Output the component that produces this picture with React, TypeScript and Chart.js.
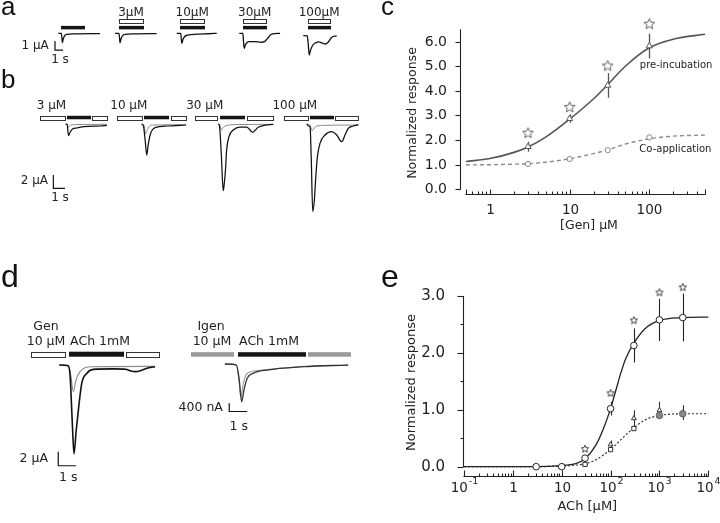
import React, { useEffect, useRef } from 'react';
import { Chart, registerables } from 'chart.js';

Chart.register(...registerables);

const SANS = '"DejaVu Sans", "Liberation Sans", sans-serif';
const LETTER = '"Liberation Sans", Arial, sans-serif';

type Pt = [number, number];

// ================= Panel a (time s, current µA) =================
const A_LABELS = ['', '3μM', '10μM', '30μM', '100μM'];
const A_START = [7.29, 14.38, 22.09, 29.91, 37.91];
const A_BAR_ON = [7.59, 14.91, 22.5, 30.41, 38.54];
const A_BAR_OFF = [10.54, 17.84, 25.54, 33.25, 41.25];
const A1: Pt[] = [[0, 0], [0.38, 0], [0.45, -0.5], [0.5, -1.04], [0.62, -0.6], [0.8, -0.25], [1.1, -0.12], [2, -0.07], [5.2, -0.03]];
const A2: Pt[] = [[0, 0], [0.5, 0], [0.56, -0.5], [0.62, -1.05], [0.75, -0.6], [0.95, -0.25], [1.3, -0.12], [2.5, -0.06], [5.2, -0.03]];
const A3: Pt[] = [[0, 0], [0.5, 0], [0.56, -0.5], [0.63, -1.11], [0.78, -0.7], [1.0, -0.35], [1.4, -0.2], [2.5, -0.1], [4, -0.05], [5.0, 0]];
const A4: Pt[] = [[0, 0], [0.45, 0], [0.52, -0.8], [0.62, -1.67], [0.75, -1.3], [0.95, -1.05], [1.2, -0.93], [2.0, -0.92], [2.7, -1.0], [3.2, -0.9], [3.6, -0.5], [4.05, -0.08], [5.1, 0]];
const A5: Pt[] = [[0, -0.25], [0.5, -0.28], [0.6, -1.0], [0.75, -2.41], [0.9, -1.9], [1.2, -1.3], [1.6, -1.04], [1.9, -0.95], [2.4, -1.1], [2.75, -1.19], [3.1, -1.0], [3.5, -0.5], [3.9, -0.32], [4.17, -0.3]];
const A_TRACES = [A1, A2, A3, A4, A5];

// ================= Panel b =================
const B_LABELS = ['3 μM', '10 μM', '30 μM', '100 μM'];
const B_ORIGIN = [5.7, 12.31, 18.8, 26.5];
const B_OPEN1: Pt[] = [[-2.28, -0.15], [-2.33, -0.2], [-2.14, -0.23], [-2.22, -0.15]];
const B_FILLED: Pt[] = [[0, 2.0], [0, 2.08], [0, 2.05], [0, 2.0]];
const B_OPEN2: Pt[] = [[2.14, 3.47], [2.31, 3.59], [2.28, 4.56], [2.14, 4.13]];
const B1_PRE: Pt[] = [[-0.09, 0], [0.05, -0.1], [0.1, -1.0], [0.16, -1.75], [0.3, -1.2], [0.5, -0.75], [0.85, -0.6], [1.5, -0.4], [2.85, -0.3], [3.44, -0.2]];
const B1_CO: Pt[] = [[-0.09, 0], [0.05, -0.05], [0.14, -0.5], [0.3, -0.2], [0.6, -0.1], [3.44, -0.05]];
const B2_PRE: Pt[] = [[-0.2, 0], [-0.05, -0.3], [0.1, -2.5], [0.23, -4.65], [0.35, -3.2], [0.5, -1.8], [0.7, -0.9], [1.0, -0.5], [2.0, -0.3], [3.6, -0.15]];
const B2_CO: Pt[] = [[-0.2, 0], [0.0, -0.2], [0.12, -1.5], [0.25, -1.0], [0.45, -0.35], [0.8, -0.15], [3.6, -0.1]];
const B3_PRE: Pt[] = [[-0.15, 0], [-0.05, -0.2], [0.1, -4], [0.28, -10.0], [0.37, -8.9], [0.49, -6.4], [0.57, -3.9], [0.77, -1.9], [1.14, -0.9], [1.71, -0.45], [2.28, -0.45], [2.55, -0.85], [2.79, -1.25], [3.0, -0.95], [3.27, -0.5], [3.8, -0.2], [4.56, -0.05]];
const B3_CO: Pt[] = [[-0.15, 0], [0.0, -0.2], [0.12, -0.9], [0.3, -0.5], [0.6, -0.2], [1.2, -0.1], [4.56, -0.05]];
const B4_PRE: Pt[] = [[-0.28, 0], [-0.1, -0.3], [0.0, -0.4], [0.1, -5], [0.23, -13.15], [0.37, -11.4], [0.49, -7.9], [0.63, -4.9], [0.85, -2.9], [1.28, -1.65], [1.85, -1.15], [2.28, -1.65], [2.71, -2.65], [2.99, -1.65], [3.27, -0.65], [3.7, -0.3], [4.13, -0.1]];
const B4_CO: Pt[] = [[-0.28, 0], [0.0, -0.2], [0.18, -1.0], [0.35, -0.6], [0.6, -0.3], [1.2, -0.2], [4.13, -0.15]];
const B_PRE = [B1_PRE, B2_PRE, B3_PRE, B4_PRE];
const B_CO = [B1_CO, B2_CO, B3_CO, B4_CO];

// ================= Panel d =================
const DL_ORIGIN = 3.9;
const DL_BARS: Pt[] = [[1.75, 3.67], [3.9, 6.97], [7.12, 9.0]];
const DL_PRE: Pt[] = [[-0.55, 0], [-0.05, -0.1], [0.06, -1.5], [0.18, -8], [0.28, -12.7], [0.4, -9.5], [0.53, -6.4], [0.72, -2.6], [1.0, -1.2], [1.37, -0.62], [2.5, -0.55], [3.2, -0.6], [3.5, -0.85], [3.75, -0.95], [4.1, -0.75], [4.5, -0.4], [4.86, -0.24]];
const DL_CO: Pt[] = [[-0.55, 0], [-0.05, -0.05], [0.1, -1.5], [0.24, -3.8], [0.4, -2.1], [0.62, -0.95], [0.9, -0.4], [1.3, -0.25], [4.86, -0.2]];
const DR_ORIGIN = 3.79;
const DR_BARS: Pt[] = [[1.15, 3.48], [3.79, 7.5], [7.68, 10.0]];
const DR_PRE: Pt[] = [[-0.74, 0], [-0.1, -0.05], [0.05, -0.7], [0.19, -1.82], [0.32, -1.25], [0.5, -0.69], [0.83, -0.45], [1.58, -0.29], [3.61, -0.13], [6.11, -0.05]];
const DR_CO: Pt[] = [[-0.74, 0], [-0.1, -0.05], [0.04, -0.8], [0.15, -1.6], [0.27, -1.0], [0.45, -0.5], [0.8, -0.35], [1.58, -0.27], [3.61, -0.12], [6.11, -0.05]];

// ================= Panel c =================
const C_CONC = [3, 10, 30, 100];
const C_PRE = [1.73, 2.87, 4.22, 5.82];
const C_PRE_ERR = [0.2, 0.17, 0.5, 0.5];
const C_CO = [1.03, 1.23, 1.59, 2.11];
const C_CO_ERR = [0.03, 0.04, 0.04, 0.12];
const C_STAR = [2.28, 3.33, 5.01, 6.71];
const C_FIT_X = [0.5, 1, 2, 3, 5, 10, 20, 30, 50, 100, 200, 500];
const C_FIT_PRE = [1.13, 1.25, 1.5, 1.72, 2.12, 2.85, 3.68, 4.25, 5.0, 5.75, 6.1, 6.3];
const C_FIT_CO = [0.99, 1.0, 1.02, 1.04, 1.1, 1.24, 1.45, 1.6, 1.84, 2.05, 2.16, 2.2];
const C_X_TICKS = [1, 10, 100];
const C_X_LABELS: [string, string][] = [['1', ''], ['10', ''], ['100', '']];
const C_Y_TICKS = [0, 1, 2, 3, 4, 5, 6];
const C_Y_LABELS = ['0.0', '1.0', '2.0', '3.0', '4.0', '5.0', '6.0'];

// ================= Panel e =================
const E_CONC = [3, 10, 30, 100, 300, 1000, 3000];
const E_CIRCLE = [0, 0, 0.15, 1.02, 2.13, 2.58, 2.62];
const E_CIRCLE_ERR = [0, 0, 0.03, 0.12, 0.3, 0.37, 0.42];
const E_TRI = [0, 0.01, 0.05, 0.39, 0.85, 0.99, 0.95];
const E_TRI_ERR = [0, 0, 0.02, 0.07, 0.14, 0.15, 0.13];
const E_SQUARE = [0, 0, 0.04, 0.3, 0.67, 0.9, 0.93];
const E_FILLED_CONC = [1000, 3000];
const E_FILLED = [0.9, 0.93];
const E_STAR_CONC = [30, 100, 300, 1000, 3000];
const E_STAR = [0.31, 1.29, 2.57, 3.06, 3.15];
const E_FIT_X = [0.1, 1, 10, 20, 30, 50, 70, 100, 130, 160, 200, 300, 500, 1000, 3000, 10000];
const E_FIT_A = [0, 0, 0.02, 0.06, 0.14, 0.38, 0.65, 1.02, 1.36, 1.63, 1.88, 2.17, 2.42, 2.57, 2.62, 2.63];
const E_FIT_B = [0, 0, 0.01, 0.03, 0.05, 0.12, 0.2, 0.3, 0.39, 0.47, 0.55, 0.68, 0.82, 0.9, 0.93, 0.93];
const E_X_TICKS = [0.1, 1, 10, 100, 1000, 10000];
const E_X_LABELS: [string, string][] = [['10', '-1'], ['1', ''], ['10', ''], ['10', '2'], ['10', '3'], ['10', '4']];
const E_Y_TICKS = [0, 1, 2, 3];
const E_Y_LABELS = ['0.0', '1.0', '2.0', '3.0'];
const E_Y_MINOR = [0.5, 1.5, 2.5];

// ---------------- helpers ----------------
interface Tr { t0: number; pts: Pt[]; color: string; width: number }
interface Bar { t0: number; t1: number; y: number; h: number; kind: 'open' | 'filled' | 'gray' }
interface Txt { t: number; y: number; text: string; align: CanvasTextAlign; size: number }
interface Sc { t: number; y: number; dt: number; dy: number }
interface PanelDef { xMax: number; yMin: number; yMax: number; traces: Tr[]; bars: Bar[]; texts: Txt[]; scale: Sc }

const baseOptions = {
  animation: false,
  responsive: false,
  events: [],
  plugins: { legend: { display: false }, tooltip: { enabled: false } },
};

function traceConfig(p: PanelDef): any {
  const datasets: any[] = p.traces.map((tr) => ({
    data: tr.pts.map(([t, v]) => ({ x: tr.t0 + t, y: v })),
    borderColor: tr.color,
    borderWidth: tr.width,
    pointRadius: 0,
    cubicInterpolationMode: 'monotone',
    fill: false,
  }));
  const s = p.scale;
  datasets.push({
    data: [{ x: s.t, y: s.y }, { x: s.t, y: s.y - s.dy }, { x: s.t + s.dt, y: s.y - s.dy }],
    borderColor: '#111',
    borderWidth: 1.2,
    pointRadius: 0,
    tension: 0,
    fill: false,
  });
  const annot = {
    id: 'annot',
    afterDatasetsDraw(chart: any) {
      const { ctx, scales } = chart;
      const x = scales.x, y = scales.y;
      ctx.save();
      for (const b of p.bars) {
        const x0 = Math.round(x.getPixelForValue(b.t0)) + 0.5;
        const x1 = Math.round(x.getPixelForValue(b.t1)) + 0.5;
        const yc = y.getPixelForValue(b.y);
        if (b.kind === 'open') {
          const y0 = Math.round(yc - b.h / 2) + 0.5;
          const hh = Math.round(b.h);
          ctx.fillStyle = '#fff';
          ctx.fillRect(x0, y0, x1 - x0, hh);
          ctx.strokeStyle = '#333';
          ctx.lineWidth = 1;
          ctx.strokeRect(x0, y0, x1 - x0, hh);
        } else {
          ctx.fillStyle = b.kind === 'filled' ? '#151515' : '#9a9a9a';
          ctx.fillRect(x0 - 0.5, yc - b.h / 2, x1 - x0 + 1, b.h);
        }
      }
      ctx.fillStyle = '#222';
      ctx.textBaseline = 'middle';
      for (const t of p.texts) {
        ctx.font = `${t.size}px ${SANS}`;
        ctx.textAlign = t.align;
        ctx.fillText(t.text, x.getPixelForValue(t.t), y.getPixelForValue(t.y));
      }
      ctx.restore();
    },
  };
  return {
    type: 'line',
    data: { datasets },
    options: {
      ...baseOptions,
      layout: { padding: 0 },
      scales: {
        x: { type: 'linear', min: 0, max: p.xMax, display: false },
        y: { type: 'linear', min: p.yMin, max: p.yMax, display: false },
      },
    },
    plugins: [annot],
  };
}

function starImage(r: number, color: string, lw: number): HTMLCanvasElement {
  const size = Math.ceil(r * 2 + lw * 2 + 2);
  const c = document.createElement('canvas');
  c.width = size;
  c.height = size;
  const g = c.getContext('2d')!;
  const cx = size / 2, cy = size / 2, ri = r * 0.45;
  g.beginPath();
  for (let k = 0; k < 10; k++) {
    const rad = k % 2 === 0 ? r : ri;
    const a = -Math.PI / 2 + (k * Math.PI) / 5;
    const px = cx + rad * Math.cos(a), py = cy + rad * Math.sin(a);
    if (k === 0) g.moveTo(px, py); else g.lineTo(px, py);
  }
  g.closePath();
  g.fillStyle = '#fff';
  g.fill();
  g.strokeStyle = color;
  g.lineWidth = lw;
  g.stroke();
  return c;
}

function logMinor(from: number, to: number): number[] {
  const out: number[] = [];
  for (let e = -2; e <= 4; e++) {
    for (let k = 2; k <= 9; k++) {
      const v = k * Math.pow(10, e);
      if (v > from * 1.0001 && v < to * 0.9999) out.push(v);
    }
  }
  return out;
}

const pts = (xs: number[], ys: number[]) => xs.map((x, i) => ({ x, y: ys[i] }));

function axesPlugin(a: any) {
  return {
    id: 'axes',
    afterDraw(chart: any) {
      const { ctx, chartArea: ca, scales } = chart;
      const x = scales.x, y = scales.y;
      ctx.save();
      ctx.strokeStyle = '#222';
      ctx.fillStyle = '#222';
      ctx.lineWidth = 1.1;
      const seg = (x0: number, y0: number, x1: number, y1: number) => {
        ctx.beginPath();
        ctx.moveTo(x0, y0);
        ctx.lineTo(x1, y1);
        ctx.stroke();
      };
      const ax = a.yAxisX + 0.5;
      seg(ax, y.getPixelForValue(a.yTo), ax, y.getPixelForValue(a.yFrom) + 0.5);
      ctx.font = a.yFont;
      ctx.textAlign = 'right';
      ctx.textBaseline = 'middle';
      a.yMajor.forEach((v: number, i: number) => {
        const py = Math.round(y.getPixelForValue(v)) + 0.5;
        seg(ax - a.majorLen, py, ax, py);
        ctx.fillText(a.yLabels[i], a.yLabelRight, py);
      });
      a.yMinor.forEach((v: number) => {
        const py = Math.round(y.getPixelForValue(v)) + 0.5;
        seg(ax - a.minorLen, py, ax, py);
      });
      const ay = Math.round(ca.bottom) - 0.5;
      seg(x.getPixelForValue(a.xFrom) - 0.5, ay, x.getPixelForValue(a.xTo) + 0.5, ay);
      a.xMinor.forEach((v: number) => {
        const px = Math.round(x.getPixelForValue(v)) + 0.5;
        seg(px, ay, px, ay - a.minorLen);
      });
      a.xEdges.forEach((v: number) => {
        const px = Math.round(x.getPixelForValue(v)) + 0.5;
        seg(px, ay, px, ay - a.majorLen);
      });
      a.xMajor.forEach((v: number, i: number) => {
        const px = Math.round(x.getPixelForValue(v)) + 0.5;
        seg(px, ay, px, ay - a.majorLen);
        const [base, sup] = a.xLabels[i];
        ctx.font = a.xFont;
        const wb = ctx.measureText(base).width;
        ctx.font = a.supFont;
        const ws = sup ? ctx.measureText(sup).width + 1 : 0;
        const start = px - (wb + ws) / 2;
        ctx.textAlign = 'left';
        ctx.font = a.xFont;
        ctx.fillText(base, start, a.xLabelY);
        if (sup) {
          ctx.font = a.supFont;
          ctx.fillText(sup, start + wb + 1, a.xLabelY - a.supRaise);
        }
      });
      ctx.font = a.titleFont;
      ctx.textAlign = 'center';
      ctx.fillText(a.xTitle, a.xTitleX, a.xTitleY);
      ctx.translate(a.yTitleX, a.yTitleY);
      ctx.rotate(-Math.PI / 2);
      ctx.fillText(a.yTitle, 0, 0);
      ctx.restore();
    },
  };
}

function errorPlugin(groups: { xs: number[]; ys: number[]; errs: number[]; color: string; width: number }[]) {
  return {
    id: 'errbars',
    beforeDatasetsDraw(chart: any) {
      const { ctx, scales } = chart;
      const x = scales.x, y = scales.y;
      ctx.save();
      for (const g of groups) {
        ctx.strokeStyle = g.color;
        ctx.lineWidth = g.width;
        g.xs.forEach((xv, i) => {
          const e = g.errs[i];
          if (!e) return;
          const px = Math.round(x.getPixelForValue(xv)) + 0.5;
          ctx.beginPath();
          ctx.moveTo(px, y.getPixelForValue(g.ys[i] + e));
          ctx.lineTo(px, y.getPixelForValue(g.ys[i] - e));
          ctx.stroke();
        });
      }
      ctx.restore();
    },
  };
}

function textPlugin(items: { x: number; y: number; text: string }[], font: string) {
  return {
    id: 'notes',
    afterDatasetsDraw(chart: any) {
      const { ctx, scales } = chart;
      ctx.save();
      ctx.font = font;
      ctx.fillStyle = '#222';
      ctx.textAlign = 'left';
      ctx.textBaseline = 'middle';
      for (const it of items) ctx.fillText(it.text, scales.x.getPixelForValue(it.x), scales.y.getPixelForValue(it.y));
      ctx.restore();
    },
  };
}

function configC(): any {
  const star = starImage(5.6, '#3a3a3a', 0.8);
  return {
    type: 'line',
    data: {
      datasets: [
        { data: pts(C_CONC, C_STAR), showLine: false, pointStyle: star, pointRadius: 6, order: 0, clip: false },
        { data: pts(C_CONC, C_PRE), showLine: false, pointStyle: 'triangle', pointRadius: 3.6, borderColor: '#555', backgroundColor: '#fff', pointBorderWidth: 1, order: 0, clip: false },
        { data: pts(C_CONC, C_CO), showLine: false, pointStyle: 'circle', pointRadius: 2.6, borderColor: '#888', backgroundColor: '#fff', pointBorderWidth: 1, order: 0, clip: false },
        { data: pts(C_FIT_X, C_FIT_PRE), borderColor: '#555', borderWidth: 1.6, pointRadius: 0, cubicInterpolationMode: 'monotone', order: 1, clip: false },
        { data: pts(C_FIT_X, C_FIT_CO), borderColor: '#8a8a8a', borderWidth: 1.4, borderDash: [4, 3], pointRadius: 0, cubicInterpolationMode: 'monotone', order: 1, clip: false },
      ],
    },
    options: {
      ...baseOptions,
      layout: { padding: { left: 86, right: 15, top: 17, bottom: 64.55 } },
      scales: {
        x: { type: 'logarithmic', min: 0.5, max: 500, display: false },
        y: { type: 'linear', min: -0.25, max: 7.0, display: false },
      },
    },
    plugins: [
      errorPlugin([
        { xs: C_CONC, ys: C_PRE, errs: C_PRE_ERR, color: '#555', width: 1.3 },
        { xs: C_CONC, ys: C_CO, errs: C_CO_ERR, color: '#888', width: 1.2 },
      ]),
      textPlugin([{ x: 76, y: 5.02, text: 'pre-incubation' }, { x: 75, y: 1.63, text: 'Co-application' }], `10px ${SANS}`),
      axesPlugin({
        yAxisX: 80, yFrom: 0, yTo: 6.5, yMajor: C_Y_TICKS, yLabels: C_Y_LABELS, yMinor: [],
        majorLen: 5, minorLen: 3, yLabelRight: 67, yFont: `14px ${SANS}`,
        xFrom: 0.5, xTo: 500, xMajor: C_X_TICKS, xLabels: C_X_LABELS, xMinor: logMinor(0.5, 500), xEdges: [0.5, 500],
        xLabelY: 210, xFont: `13.5px ${SANS}`, supFont: `9px ${SANS}`, supRaise: 7,
        xTitle: '[Gen] μM', xTitleX: 209, xTitleY: 226,
        yTitle: 'Normalized response', yTitleX: 33, yTitleY: 113, titleFont: `12.5px ${SANS}`,
      }),
    ],
  };
}

function configE(): any {
  const star = starImage(3.9, '#222', 0.85);
  return {
    type: 'line',
    data: {
      datasets: [
        { data: pts(E_STAR_CONC, E_STAR), showLine: false, pointStyle: star, pointRadius: 4, order: 0, clip: false },
        { data: pts(E_CONC, E_CIRCLE), showLine: false, pointStyle: 'circle', pointRadius: 3.3, borderColor: '#222', backgroundColor: '#fff', pointBorderWidth: 1, order: 0, clip: false },
        { data: pts(E_FILLED_CONC, E_FILLED), showLine: false, pointStyle: 'circle', pointRadius: 3.3, borderColor: '#666', backgroundColor: '#888', pointBorderWidth: 1, order: 0, clip: false },
        { data: pts(E_CONC, E_SQUARE), showLine: false, pointStyle: 'rect', pointRadius: 3, borderColor: '#333', backgroundColor: '#fff', pointBorderWidth: 1, order: 0, clip: false },
        { data: pts(E_CONC, E_TRI), showLine: false, pointStyle: 'triangle', pointRadius: 2.8, borderColor: '#333', backgroundColor: '#fff', pointBorderWidth: 1, order: 0, clip: false },
        { data: pts(E_FIT_X, E_FIT_A), borderColor: '#222', borderWidth: 1.3, pointRadius: 0, cubicInterpolationMode: 'monotone', order: 1, clip: false },
        { data: pts(E_FIT_X, E_FIT_B), borderColor: '#333', borderWidth: 1.2, borderDash: [2, 2], pointRadius: 0, cubicInterpolationMode: 'monotone', order: 1, clip: false },
      ],
    },
    options: {
      ...baseOptions,
      layout: { padding: { left: 84, right: 11.7, top: 18.9, bottom: 46.3 } },
      scales: {
        x: { type: 'logarithmic', min: 0.1, max: 10000, display: false },
        y: { type: 'linear', min: -0.176, max: 3.3, display: false },
      },
    },
    plugins: [
      errorPlugin([
        { xs: E_CONC, ys: E_CIRCLE, errs: E_CIRCLE_ERR, color: '#222', width: 1.1 },
        { xs: E_CONC, ys: E_TRI, errs: E_TRI_ERR, color: '#333', width: 1.1 },
      ]),
      axesPlugin({
        yAxisX: 83, yFrom: 0, yTo: 3, yMajor: E_Y_TICKS, yLabels: E_Y_LABELS, yMinor: E_Y_MINOR,
        majorLen: 6, minorLen: 3, yLabelRight: 65, yFont: `15px ${SANS}`,
        xFrom: 0.1, xTo: 10000, xMajor: E_X_TICKS, xLabels: E_X_LABELS, xMinor: logMinor(0.1, 10000), xEdges: [],
        xLabelY: 228.3, xFont: `13.5px ${SANS}`, supFont: `9.5px ${SANS}`, supRaise: 7,
        xTitle: 'ACh [μM]', xTitleX: 207.3, xTitleY: 246.7,
        yTitle: 'Normalized response', yTitleX: 31.7, yTitleY: 122.5, titleFont: `13px ${SANS}`,
      }),
    ],
  };
}

// ---------------- panel definitions (layout) ----------------
function panelA(): PanelDef {
  const traces: Tr[] = A_TRACES.map((tr, i) => ({ t0: A_START[i], pts: tr, color: '#111', width: 1.3 }));
  const bars: Bar[] = [];
  const texts: Txt[] = [];
  A_LABELS.forEach((lab, i) => {
    bars.push({ t0: A_BAR_ON[i], t1: A_BAR_OFF[i], y: 0.63, h: 3.5, kind: 'filled' });
    if (lab) {
      bars.push({ t0: A_BAR_ON[i], t1: A_BAR_OFF[i], y: 1.33, h: 4, kind: 'open' });
      texts.push({ t: (A_BAR_ON[i] + A_BAR_OFF[i]) / 2, y: 2.22, text: lab, align: 'center', size: 12 });
    }
  });
  texts.push({ t: 6.1, y: -1.41, text: '1 μA', align: 'right', size: 12 });
  texts.push({ t: 7.5, y: -2.97, text: '1 s', align: 'center', size: 12 });
  return { xMax: 350 / 8, yMin: -(72 - 33.3) / 9, yMax: 33.3 / 9, traces, bars, texts, scale: { t: 6.875, y: -0.86, dt: 1, dy: 1 } };
}

function panelB(): PanelDef {
  const traces: Tr[] = [];
  const bars: Bar[] = [];
  const texts: Txt[] = [];
  B_ORIGIN.forEach((o, i) => {
    traces.push({ t0: o, pts: B_PRE[i], color: '#111', width: 1.25 });
    traces.push({ t0: o, pts: B_CO[i], color: '#8a8a8a', width: 1 });
    bars.push({ t0: o + B_OPEN1[i][0], t1: o + B_OPEN1[i][1], y: 0.97, h: 4, kind: 'open' });
    bars.push({ t0: o + B_FILLED[i][0], t1: o + B_FILLED[i][1], y: 0.97, h: 3.5, kind: 'filled' });
    bars.push({ t0: o + B_OPEN2[i][0], t1: o + B_OPEN2[i][1], y: 0.97, h: 4, kind: 'open' });
    texts.push({ t: o - 1.3, y: 2.7, text: B_LABELS[i], align: 'center', size: 12 });
  });
  texts.push({ t: 4.1, y: -8.55, text: '2 μA', align: 'right', size: 12 });
  texts.push({ t: 5.13, y: -11.1, text: '1 s', align: 'center', size: 12 });
  return { xMax: 365 / 11.7, yMin: -(130 - 32) / 6.67, yMax: 32 / 6.67, traces, bars, texts, scale: { t: 4.56, y: -7.65, dt: 1, dy: 2 } };
}

function panelDL(): PanelDef {
  const traces: Tr[] = [
    { t0: DL_ORIGIN, pts: DL_PRE, color: '#111', width: 1.6 },
    { t0: DL_ORIGIN, pts: DL_CO, color: '#8a8a8a', width: 1.1 },
  ];
  const bars: Bar[] = [
    { t0: DL_BARS[0][0], t1: DL_BARS[0][1], y: 1.54, h: 5, kind: 'open' },
    { t0: DL_BARS[1][0], t1: DL_BARS[1][1], y: 1.54, h: 5, kind: 'filled' },
    { t0: DL_BARS[2][0], t1: DL_BARS[2][1], y: 1.54, h: 5, kind: 'open' },
  ];
  const texts: Txt[] = [
    { t: 2.6, y: 5.43, text: 'Gen', align: 'center', size: 12.5 },
    { t: 2.6, y: 3.29, text: '10 μM', align: 'center', size: 12.5 },
    { t: 5.65, y: 3.29, text: 'ACh 1mM', align: 'center', size: 12.5 },
    { t: 2.71, y: -13.43, text: '2 μA', align: 'right', size: 12.5 },
    { t: 3.86, y: -16.14, text: '1 s', align: 'center', size: 12.5 },
  ];
  return { xMax: 170 / 17.7, yMin: -125 / 7, yMax: 50 / 7, traces, bars, texts, scale: { t: 3.29, y: -12.39, dt: 1, dy: 2 } };
}

function panelDR(): PanelDef {
  const traces: Tr[] = [
    { t0: DR_ORIGIN, pts: DR_PRE, color: '#333', width: 1.3 },
    { t0: DR_ORIGIN, pts: DR_CO, color: '#999', width: 1.1 },
  ];
  const bars: Bar[] = [
    { t0: DR_BARS[0][0], t1: DR_BARS[0][1], y: 0.46, h: 4.5, kind: 'gray' },
    { t0: DR_BARS[1][0], t1: DR_BARS[1][1], y: 0.46, h: 4.5, kind: 'filled' },
    { t0: DR_BARS[2][0], t1: DR_BARS[2][1], y: 0.46, h: 4.5, kind: 'gray' },
  ];
  const texts: Txt[] = [
    { t: 2.28, y: 1.8, text: 'Igen', align: 'center', size: 12.5 },
    { t: 2.33, y: 1.06, text: '10 μM', align: 'center', size: 12.5 },
    { t: 5.5, y: 1.06, text: 'ACh 1mM', align: 'center', size: 12.5 },
    { t: 2.94, y: -2.1, text: '400 nA', align: 'right', size: 12.5 },
    { t: 3.82, y: -3.02, text: '1 s', align: 'center', size: 12.5 },
  ];
  return { xMax: 190 / 18, yMin: -81 / 20.75, yMax: 49 / 20.75, traces, bars, texts, scale: { t: 3.29, y: -1.89, dt: 1, dy: 0.4 } };
}

function ChartBox(props: { left: number; top: number; width: number; height: number; make: () => any }) {
  const ref = useRef<HTMLCanvasElement>(null);
  useEffect(() => {
    const chart = new Chart(ref.current as HTMLCanvasElement, props.make());
    return () => chart.destroy();
  }, []);
  const { left, top, width, height } = props;
  return (
    <div style={{ position: 'absolute', left, top, width, height }}>
      <canvas ref={ref} width={width} height={height} style={{ width, height, display: 'block' }} />
    </div>
  );
}

function Letter(props: { ch: string; left: number; top: number; size: number }) {
  return (
    <div
      style={{
        position: 'absolute',
        left: props.left,
        top: props.top,
        font: `${props.size}px ${LETTER}`,
        lineHeight: `${props.size}px`,
        color: '#111',
      }}
    >
      {props.ch}
    </div>
  );
}

export default function App() {
  return (
    <div style={{ position: 'fixed', left: 0, top: 0, width: 720, height: 523, background: '#fff', overflow: 'hidden' }}>
      <ChartBox left={0} top={0} width={350} height={72} make={() => traceConfig(panelA())} />
      <ChartBox left={0} top={92} width={365} height={130} make={() => traceConfig(panelB())} />
      <ChartBox left={0} top={315} width={170} height={175} make={() => traceConfig(panelDL())} />
      <ChartBox left={170} top={315} width={190} height={130} make={() => traceConfig(panelDR())} />
      <ChartBox left={380} top={0} width={340} height={260} make={configC} />
      <ChartBox left={380} top={260} width={340} height={263} make={configE} />
      <Letter ch="a" left={1} top={-7} size={26} />
      <Letter ch="b" left={1} top={66} size={26} />
      <Letter ch="c" left={381} top={-7} size={26} />
      <Letter ch="d" left={1} top={260} size={32} />
      <Letter ch="e" left={381} top={260} size={32} />
    </div>
  );
}
